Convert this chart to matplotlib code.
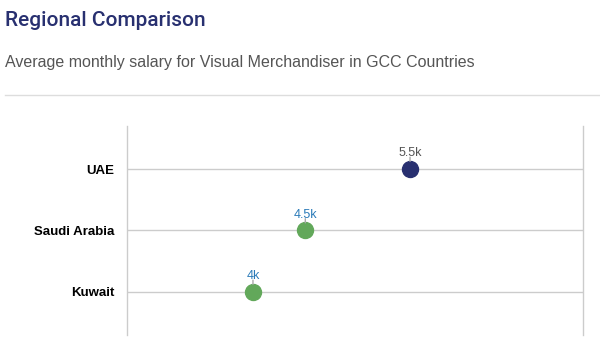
import matplotlib
matplotlib.use("Agg")
import matplotlib.pyplot as plt

countries = ["UAE", "Saudi Arabia", "Kuwait"]
salaries = [5500, 4500, 4000]
value_labels = ["5.5k", "4.5k", "4k"]
point_colors = ["#283070", "#62a85a", "#62a85a"]
label_colors = ["#555555", "#2a7ab8", "#2a7ab8"]

fig = plt.figure(figsize=(6, 3.55), dpi=100)
fig.patch.set_facecolor("white")

fig.text(5/600, 1-20/355, "Regional Comparison", fontsize=15, color="#283070",
         family="Roboto", fontweight="medium", va="center", ha="left")
fig.text(5/600, 1-63/355, "Average monthly salary for Visual Merchandiser in GCC Countries",
         fontsize=11.5, color="#555555", family="Liberation Sans", va="center", ha="left")
fig.add_artist(plt.Line2D([5/600, 1], [1-95/355, 1-95/355], color="#dddddd", lw=1))

ax = fig.add_axes([127/600, 1-335/355, 456/600, 209/355])
ax.set_xlim(2797, 7152)
ax.set_ylim(2.7, -0.7)
ypos = list(range(len(countries)))
for y in ypos:
    ax.axhline(y, color="#cccccc", lw=1, zorder=1)
for s in ["top", "bottom"]:
    ax.spines[s].set_visible(False)
for s in ["left", "right"]:
    ax.spines[s].set_color("#cccccc")
    ax.spines[s].set_linewidth(1)
ax.set_xticks([])
ax.set_yticks(ypos)
ax.set_yticklabels(countries, fontsize=9.5, fontweight="bold", family="Liberation Sans")
ax.tick_params(axis="y", length=0, pad=9)

for y, v, lab, pc, lc in zip(ypos, salaries, value_labels, point_colors, label_colors):
    ax.plot([v], [y], "o", ms=11.5, color=pc, zorder=3)
    ax.annotate("", xy=(v, y), xytext=(0, 8.5), textcoords="offset points",
                arrowprops=dict(arrowstyle="-", color="#aaaaaa", lw=1, shrinkA=0, shrinkB=5.5))
    ax.annotate(lab, xy=(v, y), xytext=(0, 7), textcoords="offset points",
                ha="center", va="bottom", fontsize=9, color=lc, family="Liberation Sans")

fig.savefig("out.png", dpi=100)
